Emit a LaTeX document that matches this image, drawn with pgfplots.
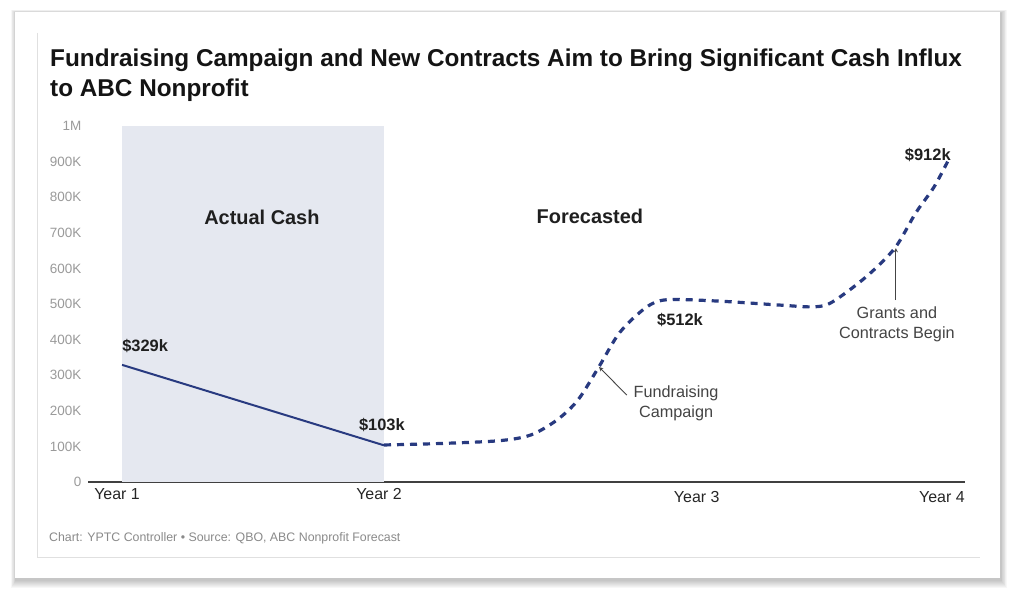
\documentclass[border=0pt]{standalone}
\usepackage{pgfplots}
\pgfplotsset{compat=1.18}
\usepackage{fontspec}
\setmainfont{Liberation Sans}
\definecolor{navy}{HTML}{283A80}
\definecolor{shadecol}{HTML}{E5E8F0}
\definecolor{ticktxt}{HTML}{9A9A9A}
\definecolor{anno}{HTML}{444444}
\definecolor{foot}{HTML}{8A8A8A}
\begin{document}
\begin{tikzpicture}[x=1bp,y=1bp]
\path[use as bounding box] (0,0) rectangle (1020,598);
% card shadow
\foreach \i in {1,...,8} {
  \fill[black, opacity=0.03] (15-0.6*\i+1, 20-1.0*\i-2) rectangle (1000+0.7*\i+1, 586+0.4*\i-1);
}
\fill[white] (15,20) rectangle (1000,586);
\draw[black!12, line width=0.8bp] (37,565) -- (37,41) -- (980,41);
% title
\node[anchor=base west, inner sep=0, font=\fontsize{24.4}{30}\selectfont\bfseries, text=black!92] at (50,531) {Fundraising Campaign and New Contracts Aim to Bring Significant Cash Influx};
\node[anchor=base west, inner sep=0, font=\fontsize{24.4}{30}\selectfont\bfseries, text=black!92] at (50,501) {to ABC Nonprofit};
% footer
\node[anchor=base west, inner sep=0, font=\fontsize{12.4}{14}\selectfont, text=foot] at (49,56) {Chart: YPTC Controller • Source: QBO, ABC Nonprofit Forecast};

\begin{axis}[
  at={(88bp,116bp)}, anchor=south west,
  scale only axis, width=877bp, height=356bp,
  xmin=-0.13, xmax=3.218, ymin=0, ymax=1000,
  axis x line=bottom, axis y line=left,
  x axis line style={-, draw=black!75, line width=1.3bp},
  y axis line style={draw=none},
  tick style={draw=none},
  ytick={0,100,...,1000},
  yticklabels={0,100K,200K,300K,400K,500K,600K,700K,800K,900K,1M},
  yticklabel style={font=\fontsize{13.5}{15}\selectfont, text=ticktxt, xshift=-1bp},
  xtick={0,1},
  xticklabels={Year 1,Year 2},
  xticklabel style={font=\fontsize{16}{18}\selectfont, text=black!85, xshift=-5bp, yshift=-1bp},
  extra x ticks={2.19,3.126},
  extra x tick labels={Year 3,Year 4},
  extra x tick style={tick label style={yshift=-3bp, xshift=6bp}},
  /pgf/number format/assume math mode=true,
  clip=false,
]
\fill[shadecol] (axis cs:0,0) rectangle (axis cs:1,1000);
\addplot[navy, line width=2bp] coordinates {(0,329) (1,103)};
\addplot[navy, line width=3.2bp, dash pattern=on 7bp off 6bp, smooth, tension=0.5] coordinates {
 (1.0,104) (1.21,108) (1.44,116) (1.56,132) (1.66,174) (1.74,230) (1.82,323)
 (1.90,420) (2.00,490) (2.08,512) (2.28,508) (2.51,497) (2.64,492) (2.71,505)
 (2.84,576) (2.95,657) (3.03,756) (3.10,829) (3.16,912)
};
\node[font=\fontsize{16.5}{18}\selectfont\bfseries, text=black!88] at (axis cs:0.088,382) {\$329k};
\node[font=\fontsize{16.5}{18}\selectfont\bfseries, text=black!88] at (axis cs:0.992,160) {\$103k};
\node[font=\fontsize{16.5}{18}\selectfont\bfseries, text=black!88] at (axis cs:2.13,455) {\$512k};
\node[font=\fontsize{16.5}{18}\selectfont\bfseries, text=black!88] at (axis cs:3.076,918) {\$912k};
\node[font=\fontsize{20}{22}\selectfont\bfseries, text=black!88] at (axis cs:0.534,744) {Actual Cash};
\node[font=\fontsize{20}{22}\selectfont\bfseries, text=black!88] at (axis cs:1.786,747) {Forecasted};
\node[font=\fontsize{16.3}{20}\selectfont, text=anno, align=center] at (axis cs:2.115,222) {Fundraising\\Campaign};
\draw[anno, line width=0.9bp, -stealth] (axis cs:1.927,244) -- (axis cs:1.821,323);
\node[font=\fontsize{16.3}{20}\selectfont, text=anno, align=center] at (axis cs:2.958,444) {Grants and\\Contracts Begin};
\draw[anno, line width=0.9bp, -stealth] (axis cs:2.954,511) -- (axis cs:2.954,657);
\end{axis}
\end{tikzpicture}
\end{document}
